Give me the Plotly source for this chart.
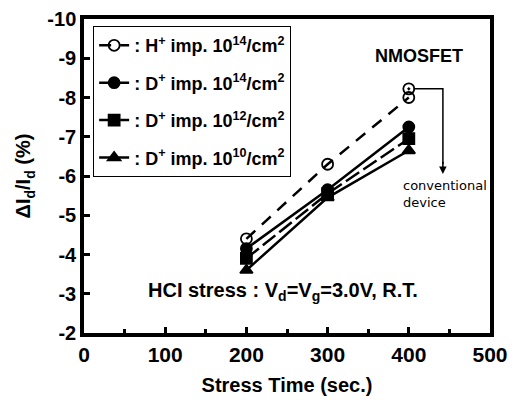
import plotly.graph_objects as go

stress_time = [200, 300, 400]
h_imp_1e14 = [-4.4, -6.3, -8.0]
d_imp_1e14 = [-4.15, -5.65, -7.25]
d_imp_1e12 = [-3.9, -5.55, -6.95]
d_imp_1e10 = [-3.6, -5.45, -6.65]
conv_time = [400]
conv_value = [-8.22]

x_ticks = [0, 100, 200, 300, 400, 500]
x_labels = ["0", "100", "200", "300", "400", "500"]
y_ticks = [-10, -9, -8, -7, -6, -5, -4, -3, -2]
y_labels = ["-10", "-9", "-8", "-7", "-6", "-5", "-4", "-3", "-2"]

names = [
    ": H<sup>+</sup> imp. 10<sup>14</sup>/cm<sup>2</sup>",
    ": D<sup>+</sup> imp. 10<sup>14</sup>/cm<sup>2</sup>",
    ": D<sup>+</sup> imp. 10<sup>12</sup>/cm<sup>2</sup>",
    ": D<sup>+</sup> imp. 10<sup>10</sup>/cm<sup>2</sup>",
]

FONT = "Liberation Sans, Arial, sans-serif"
fig = go.Figure()

series = [
    (h_imp_1e14, "circle-open", "12px,9px"),
    (d_imp_1e14, "circle", "solid"),
    (d_imp_1e12, "square", "16px,5px"),
    (d_imp_1e10, "triangle-up", "solid"),
]
for i, (vals, sym, dash) in enumerate(series):
    fig.add_trace(go.Scatter(
        x=stress_time, y=vals, mode="lines+markers", name=names[i],
        legendgroup=f"g{i}",
        line=dict(color="black", width=2.5, dash=dash),
        marker=dict(symbol=sym, size=11, color="black",
                    line=dict(color="black", width=1.8)),
    ))

fig.add_trace(go.Scatter(
    x=conv_time, y=conv_value, mode="markers", showlegend=False,
    marker=dict(symbol="circle-open-dot", size=11, color="black", line=dict(color="black", width=1.8)),
))

# arrow from conventional device point
fig.add_shape(type="path", path="M 406,-8.22 L 442,-8.22 L 442,-6.3",
              line=dict(color="black", width=1.5), xref="x", yref="y")
fig.add_annotation(x=442, y=-6.05, ax=442, ay=-6.4, xref="x", yref="y", axref="x", ayref="y",
                   showarrow=True, arrowhead=2, arrowsize=1, arrowwidth=1.5, arrowcolor="black", text="")
fig.add_annotation(x=390, y=-5.55, xref="x", yref="y", xanchor="left", yanchor="middle",
                   text="conventional<br>device", showarrow=False, align="left",
                   font=dict(family="DejaVu Sans, sans-serif", size=13, color="black"))
fig.add_annotation(x=413, y=-9.05, xref="x", yref="y", text="<b>NMOSFET</b>", showarrow=False,
                   font=dict(family=FONT, size=18, color="black"))
fig.add_annotation(x=245, y=-3.05, xref="x", yref="y",
                   text="<b>HCI stress : V<sub>d</sub>=V<sub>g</sub>=3.0V, R.T.</b>", showarrow=False,
                   font=dict(family=FONT, size=20, color="black"))

fig.update_layout(
    width=521, height=400,
    margin=dict(l=76, r=39, t=11, b=75),
    paper_bgcolor="white", plot_bgcolor="white",
    font=dict(family=FONT, color="black"),
    legend=dict(x=0.022, y=0.978, xanchor="left", yanchor="top",
                bordercolor="black", borderwidth=1.2, bgcolor="white",
                font=dict(family=FONT, size=18, color="black", weight="bold"),
                tracegroupgap=11, traceorder="grouped", itemwidth=30),
    xaxis=dict(range=[0, 500], tickvals=x_ticks, ticktext=x_labels, automargin=False,
               ticklabeloverflow="allow",
               ticks="inside", ticklen=6, tickwidth=3, tickcolor="black",
               minor=dict(tickvals=[50, 150, 250, 350, 450], ticks="inside", ticklen=4, tickwidth=3, tickcolor="black"),
               showline=True, linewidth=3.5, linecolor="black", mirror=True, showgrid=False, zeroline=False,
               tickfont=dict(family=FONT, size=21, color="black", weight="bold"),
               title=dict(text="<b>Stress Time (sec.)</b>", font=dict(family=FONT, size=20), standoff=14)),
    yaxis=dict(range=[-2, -10], tickvals=y_ticks, ticktext=y_labels, automargin=False,
               ticklabeloverflow="allow",
               ticks="inside", ticklen=6, tickwidth=3, tickcolor="black",
               showline=True, linewidth=3.5, linecolor="black", mirror=True, showgrid=False, zeroline=False,
               tickfont=dict(family=FONT, size=20, color="black", weight="bold"),
               title=dict(text="<b>ΔI<sub>d</sub>/I<sub>d</sub> (%)</b>", font=dict(family=FONT, size=20), standoff=12)),
)

fig.write_html("out.html")
